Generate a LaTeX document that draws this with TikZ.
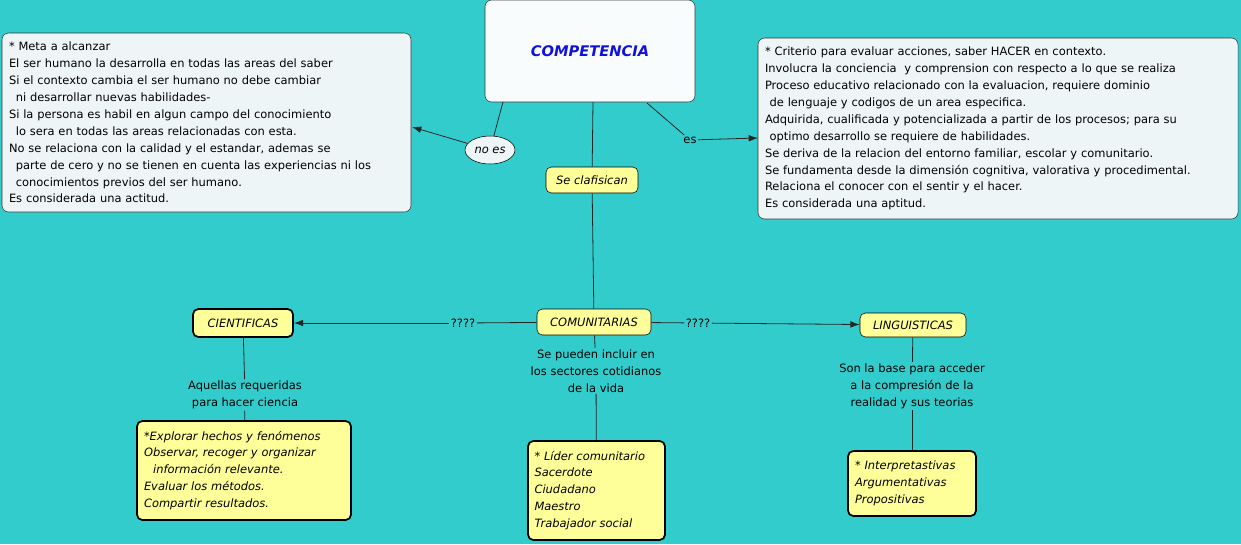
\documentclass[tikz,border=0pt]{standalone}
\usepackage{fontspec}
\setmainfont{DejaVu Sans}
\usetikzlibrary{shapes.geometric,arrows.meta}
\definecolor{bg}{HTML}{33CCCC}
\definecolor{pale}{HTML}{EEF5F7}
\definecolor{yel}{HTML}{FFFF99}
\definecolor{ttl}{HTML}{1111DD}
\begin{document}
\begin{tikzpicture}[x=0.75pt,y=-0.75pt,
  every node/.style={font=\fontsize{8.6}{12.7}\selectfont},
  pbox/.style={draw=black!80,fill=pale,rounded corners=5pt,align=left,inner sep=0pt},
  ybox/.style={draw=black,fill=yel,rounded corners=4pt,font=\fontsize{8.6}{12.7}\selectfont\itshape},
  ylist/.style={ybox,line width=1.3pt,align=left,inner sep=0pt},
  lbl/.style={align=center,fill=bg,inner sep=1pt},
  ln/.style={draw=black!85,line width=0.6pt},
  arr/.style={ln,-{Latex[length=7pt,width=5pt]}}]
\fill[bg] (0,0) rectangle (1241,544);
\useasboundingbox (0,0) rectangle (1241,544);
\node[pbox,minimum width=210*0.75pt,minimum height=102*0.75pt,fill=pale!90!bg!20] (comp) at (590,51)
 {\fontsize{11}{13}\selectfont\bfseries\itshape\color{ttl}COMPETENCIA};
\node[pbox,minimum width=409*0.75pt,minimum height=179*0.75pt,text width=395*0.75pt] (left) at (206.5,122.5)
 {* Meta a alcanzar\\
* El ser humano la desarrolla en todas las areas del saber\\
* Si el contexto cambia el ser humano no debe cambiar\\
\hspace*{0.6em}ni desarrollar nuevas habilidades-\\
* Si la persona es habil en algun campo del conocimiento\\
\hspace*{0.6em}lo sera en todas las areas relacionadas con esta.\\
* No se relaciona con la calidad y el estandar, ademas se\\
\hspace*{0.6em}parte de cero y no se tienen en cuenta las experiencias ni los\\
\hspace*{0.6em}conocimientos previos del ser humano.\\
* Es considerada una actitud.};
\node[pbox,minimum width=480*0.75pt,minimum height=181*0.75pt,text width=466*0.75pt] (right) at (998,128.5)
 {* Criterio para evaluar acciones, saber HACER en contexto.\\
* Involucra la conciencia\ \ y comprension con respecto a lo que se realiza\\
* Proceso educativo relacionado con la evaluacion, requiere dominio\\
\hspace*{0.4em}de lenguaje y codigos de un area especifica.\\
* Adquirida, cualificada y potencializada a partir de los procesos; para su\\
\hspace*{0.4em}optimo desarrollo se requiere de habilidades.\\
* Se deriva de la relacion del entorno familiar, escolar y comunitario.\\
* Se fundamenta desde la dimensión cognitiva, valorativa y procedimental.\\
* Relaciona el conocer con el sentir y el hacer.\\
* Es considerada una aptitud.};
\node[ellipse,draw=black,fill=pale,minimum width=50*0.75pt,minimum height=28*0.75pt,inner sep=0pt,font=\fontsize{8.6}{10}\selectfont\itshape] (noes) at (490,150) {no es};
\node[inner sep=1pt] (es) at (690,140) {es};
\node[ybox,minimum width=92*0.75pt,minimum height=26*0.75pt] (clas) at (592,180) {Se clafisican};
\node[ybox,minimum width=114*0.75pt,minimum height=26*0.75pt] (comu) at (594,322) {COMUNITARIAS};
\node[ybox,line width=1.3pt,minimum width=100*0.75pt,minimum height=28*0.75pt] (cien) at (243,323) {CIENTIFICAS};
\node[ybox,minimum width=106*0.75pt,minimum height=24*0.75pt] (ling) at (913,325) {LINGUISTICAS};
\node[lbl] (q1) at (463,323) {????};
\node[lbl] (q2) at (698,323) {????};
\node[lbl] (t1) at (245,395) {Aquellas requeridas\\para hacer ciencia};
\node[lbl] (t2) at (596,371) {Se pueden incluir en\\los sectores cotidianos\\de la vida};
\node[lbl] (t3) at (912,386) {Son la base para acceder\\a la compresión de la\\realidad y sus teorias};
\node[ylist,minimum width=214*0.75pt,minimum height=99*0.75pt,text width=200*0.75pt] (b1) at (244,470.5)
 {*Explorar hechos y fenómenos\\* Observar, recoger y organizar\\\hspace*{0.8em}información relevante.\\* Evaluar los métodos.\\* Compartir resultados.};
\node[ylist,minimum width=137*0.75pt,minimum height=99*0.75pt,text width=124*0.75pt] (b2) at (596.5,490.5)
 {* Líder comunitario\\* Sacerdote\\* Ciudadano\\* Maestro\\* Trabajador social};
\node[ylist,minimum width=128*0.75pt,minimum height=65*0.75pt,text width=114*0.75pt] (b3) at (912,483.5)
 {* Interpretastivas\\* Argumentativas\\* Propositivas};
\draw[ln] (503,102) -- (noes);
\draw[arr] (noes) -- (412,127);
\draw[ln] (647,103) -- (es);
\draw[arr] (es) -- (758,138);
\draw[ln] (593,102) -- (clas);
\draw[ln] (clas) -- (comu);
\draw[ln] (comu) -- (q1);
\draw[arr] (q1) -- (cien);
\draw[ln] (comu) -- (q2);
\draw[arr] (q2) -- (ling);
\draw[ln] (cien) -- (t1);
\draw[ln] (t1) -- (b1);
\draw[ln] (comu) -- (t2);
\draw[ln] (t2) -- (b2);
\draw[ln] (ling) -- (t3);
\draw[ln] (t3) -- (b3);
\end{tikzpicture}
\end{document}
